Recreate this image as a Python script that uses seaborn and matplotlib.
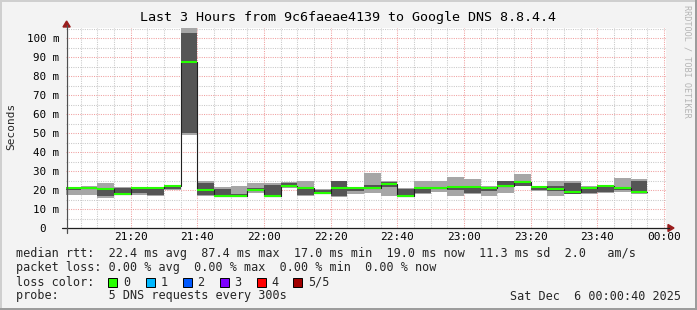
import numpy as np
import pandas as pd
import matplotlib
matplotlib.use("Agg")
import matplotlib.pyplot as plt
import seaborn as sns
from matplotlib.patches import Rectangle, Polygon
from matplotlib.lines import Line2D

# ---------------- data (5 pings per 5-minute slot, sorted) ----------------
slot_labels = ["21:00", "21:05", "21:10", "21:15", "21:20", "21:25", "21:30", "21:35",
               "21:40", "21:45", "21:50", "21:55", "22:00", "22:05", "22:10", "22:15",
               "22:20", "22:25", "22:30", "22:35", "22:40", "22:45", "22:50", "22:55",
               "23:00", "23:05", "23:10", "23:15", "23:20", "23:25", "23:30", "23:35",
               "23:40", "23:45", "23:50"]
ping_min = [17.2, 17.2, 15.8, 17.5, 17.2, 17.1, 20.0, 48.9, 16.9, 16.2, 16.5, 18.2,
            16.4, 21.0, 17.0, 17.8, 16.2, 17.8, 18.2, 17.0, 16.4, 17.8, 19.2, 17.0,
            17.8, 16.9, 18.2, 22.0, 19.3, 17.0, 17.8, 17.9, 18.2, 19.2, 18.0]
ping_q2 = [19.9, 20.3, 16.7, 17.8, 18.2, 17.2, 20.5, 49.8, 17.2, 16.5, 16.7, 19.5,
           16.6, 21.4, 17.4, 18.0, 16.8, 19.5, 20.5, 21.5, 16.6, 18.2, 20.3, 20.0,
           18.3, 19.4, 21.5, 22.3, 20.0, 19.5, 18.0, 18.2, 19.0, 20.2, 18.2]
ping_median = [20.9, 20.9, 20.4, 18.1, 20.9, 20.9, 22.2, 87.4, 20.2, 17.0, 17.0, 20.2,
               17.1, 22.0, 20.8, 18.2, 21.1, 21.0, 21.2, 23.0, 17.0, 20.9, 20.9, 21.6,
               21.8, 21.2, 22.3, 24.0, 21.6, 20.5, 19.0, 21.2, 22.2, 20.9, 19.0]
ping_q4 = [21.2, 21.2, 20.7, 21.2, 21.2, 21.2, 22.4, 102.5, 23.9, 20.3, 17.8, 21.0,
           22.6, 23.7, 21.3, 19.8, 24.7, 21.2, 22.6, 24.0, 20.5, 21.3, 21.2, 22.1,
           22.2, 21.6, 24.8, 24.7, 21.7, 21.9, 23.6, 21.6, 22.3, 21.4, 25.0]
ping_max = [21.4, 22.1, 23.8, 21.4, 21.4, 21.4, 22.8, 105.6, 25.0, 21.7, 22.3, 23.9,
            23.9, 24.0, 24.9, 20.3, 25.0, 21.5, 29.1, 24.8, 21.2, 25.0, 25.0, 27.0,
            25.8, 22.0, 25.0, 28.3, 21.8, 25.0, 25.0, 21.9, 22.5, 26.2, 25.6]

x_tick_labels = ["21:20", "21:40", "22:00", "22:20", "22:40", "23:00", "23:20", "23:40", "00:00"]
y_tick_values = [0, 10, 20, 30, 40, 50, 60, 70, 80, 90, 100]
y_tick_labels = ["0  ", "10 m", "20 m", "30 m", "40 m", "50 m", "60 m", "70 m", "80 m", "90 m", "100 m"]

title = "Last 3 Hours from 9c6faeae4139 to Google DNS 8.8.4.4"
legend_line1 = "median rtt:  22.4 ms avg  87.4 ms max  17.0 ms min  19.0 ms now  11.3 ms sd  2.0   am/s"
legend_line2 = "packet loss: 0.00 % avg  0.00 % max  0.00 % min  0.00 % now"
legend_line3 = "loss color:"
legend_line4 = "probe:       5 DNS requests every 300s"
stamp = "Sat Dec  6 00:00:40 2025"
loss_labels = ["0", "1", "2", "3", "4", "5/5"]
loss_colors = ["#26ff00", "#00b8ff", "#0059ff", "#7e00ff", "#ff0000", "#a10000"]

# ---------------- setup ----------------
sns.set_theme(style="white")
plt.rcParams["font.family"] = ["DejaVu Sans Mono", "DejaVu Sans"]

FS = 8.45
W, H = 697, 310
BG = "#f3f3f3"
fig = plt.figure(figsize=(W / 100, H / 100), dpi=100, facecolor=BG)


def fx(px):
    return px / W


def fy(py):
    return 1 - py / H


ax = fig.add_axes([fx(66.2), fy(228), 600 / W, 200 / H])
ax.set_facecolor("white")

base = pd.Timestamp("2025-12-05 21:00:00")
slot_start = pd.to_datetime(["2025-12-05 " + s for s in slot_labels])
xs = ((slot_start - base).total_seconds() / 60).to_numpy()
step = 5.0

df = pd.DataFrame({"x": xs, "lo": ping_min, "q2": ping_q2, "med": ping_median,
                   "q4": ping_q4, "hi": ping_max})

# grid (below the smoke)
for v in np.arange(5, 181, 5):
    major = (v % 20 == 0)
    ax.axvline(v, color="#f0a0a0" if major else "#c8c8c8", lw=0.75,
               ls=(0, (1, 1.2)), zorder=0.5)
for v in np.arange(5, 106, 5):
    major = (v % 10 == 0)
    ax.axhline(v, color="#f0a0a0" if major else "#c8c8c8", lw=0.75,
               ls=(0, (1, 1.2)), zorder=0.5)

# smoke: outer pair light, inner pair dark
ax.bar(df["x"], df["hi"] - df["lo"], bottom=df["lo"], width=step, align="edge",
       color="#a6a6a6", linewidth=0, zorder=1)
ax.bar(df["x"], df["q4"] - df["q2"], bottom=df["q2"], width=step, align="edge",
       color="#555555", linewidth=0, zorder=1.1)

# median step line (thin dark) and green median segments
step_df = pd.DataFrame({"x": list(df["x"]) + [df["x"].iloc[-1] + step],
                        "y": list(df["med"]) + [df["med"].iloc[-1]]})
sns.lineplot(data=step_df, x="x", y="y", drawstyle="steps-post", color="#202020",
             linewidth=0.8, ax=ax, zorder=3, estimator=None)
ax.hlines(df["med"], df["x"], df["x"] + step, color=loss_colors[0], linewidth=1.5, zorder=4)

# limits
x0 = 40 / 60.0
ax.set_xlim(x0, x0 + 180)
ax.set_ylim(0, 200 / 1.9)

ax.set_xticks([20 * (i + 1) for i in range(len(x_tick_labels))])
ax.set_xticklabels(x_tick_labels)
ax.set_yticks(y_tick_values)
ax.set_yticklabels(y_tick_labels)
ax.tick_params(axis="both", length=0, colors="#000000")
ax.tick_params(axis="x", pad=3.2, labelsize=8.0)
ax.tick_params(axis="y", pad=5.0, labelsize=7.8)
ax.set_xlabel("")
ax.set_ylabel("")
for s in ax.spines.values():
    s.set_visible(False)

# axes lines and arrows (figure pixel coords)
fig.add_artist(Line2D([fx(62), fx(669)], [fy(228), fy(228)], color="#202020", lw=0.9))
fig.add_artist(Line2D([fx(66.6), fx(66.6)], [fy(233), fy(25)], color="#505050", lw=0.9))
fig.add_artist(Polygon([[fx(66.6), fy(21)], [fx(63), fy(27)], [fx(70.2), fy(27)]],
                       closed=True, color="#9a1c1c"))
fig.add_artist(Polygon([[fx(674), fy(228)], [fx(668), fy(224.5)], [fx(668), fy(231.5)]],
                       closed=True, color="#9a1c1c"))

# texts
fig.text(fx(348), fy(18), title, ha="center", va="center", fontsize=9.6, color="#000000")
fig.text(fx(11), fy(126), "Seconds", rotation=90, ha="center", va="center", fontsize=8.0)
fig.text(fx(687), fy(5), "RRDTOOL / TOBI OETIKER", rotation=270, ha="center", va="top",
         fontsize=6.1, color="#b4b4b4")

row_y = [254, 268, 282, 296]
fig.text(fx(16), fy(row_y[0]), legend_line1, ha="left", va="center", fontsize=FS)
fig.text(fx(16), fy(row_y[1]), legend_line2, ha="left", va="center", fontsize=FS)
fig.text(fx(16), fy(row_y[2]), legend_line3, ha="left", va="center", fontsize=FS)
box_x = [108, 145.5, 182.5, 219.5, 256.5, 293]
for bx, lab, col in zip(box_x, loss_labels, loss_colors):
    fig.add_artist(Rectangle((fx(bx), fy(row_y[2] + 4.5)), 9 / W, 9 / H,
                             facecolor=col, edgecolor="#000000", lw=0.7))
    fig.text(fx(bx + 15), fy(row_y[2]), lab, ha="left", va="center", fontsize=FS)
fig.text(fx(16), fy(row_y[3]), legend_line4, ha="left", va="center", fontsize=FS)
fig.text(fx(681), fy(row_y[3]), stamp, ha="right", va="center", fontsize=FS)

# 3D frame
fig.add_artist(Rectangle((0, 0), 2 / W, 1, facecolor="#cfcfcf", lw=0))
fig.add_artist(Rectangle((0, 1 - 2 / H), 1, 2 / H, facecolor="#cfcfcf", lw=0))
fig.add_artist(Rectangle((1 - 2 / W, 0), 2 / W, 1, facecolor="#9c9c9c", lw=0))
fig.add_artist(Rectangle((0, 0), 1, 2 / H, facecolor="#9c9c9c", lw=0))

fig.savefig("out.png", dpi=100, facecolor=BG)
